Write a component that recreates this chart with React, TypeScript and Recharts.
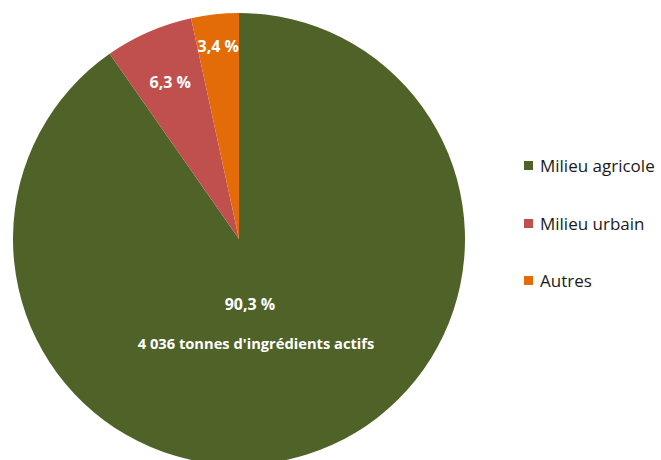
import { PieChart, Pie, Cell, Legend } from 'recharts';

const categories = ['Milieu agricole', 'Milieu urbain', 'Autres'];
const shares = [90.3, 6.3, 3.4];
const colors = ['#4F6228', '#C0504D', '#E36C09'];
const mainNote = "4 036 tonnes d'ingrédients actifs";

const RAD = Math.PI / 180;
const FONT = "'Open Sans', 'Noto Sans', sans-serif";

const data = categories.map((name, i) => ({ name, value: shares[i] }));

const fmt = (v: number) => `${v.toFixed(1).replace('.', ',')} %`;

// radius factor of each label
const labelRadius = [0, 0.76, 0.86];

const renderLabel = (props: any) => {
  const { cx, cy, midAngle, outerRadius, index, value } = props;
  if (index === 0) {
    return (
      <g fill="#fff" fontFamily={FONT} fontWeight={700} textAnchor="middle">
        <text x={cx + 11} y={cy + 71} fontSize={16}>{fmt(value)}</text>
        <text x={cx + 17} y={cy + 110} fontSize={14.7}>{mainNote}</text>
      </g>
    );
  }
  const r = outerRadius * labelRadius[index];
  const x = cx + r * Math.cos(-midAngle * RAD);
  const y = cy + r * Math.sin(-midAngle * RAD);
  return (
    <text x={x} y={y} fill="#fff" fontFamily={FONT} fontWeight={700} fontSize={16}
      textAnchor="middle" dominantBaseline="central">
      {fmt(value)}
    </text>
  );
};

const LegendList = () => (
  <div style={{ fontFamily: FONT, fontSize: 17, color: '#1a1a1a' }}>
    {categories.map((c, i) => (
      <div key={c} style={{ display: 'flex', alignItems: 'center', height: 57.5 }}>
        <span style={{ width: 9, height: 9, background: colors[i], marginRight: 7, display: 'inline-block' }} />
        <span>{c}</span>
      </div>
    ))}
  </div>
);

export default function App() {
  return (
    <div style={{ position: 'absolute', left: 0, top: 0, width: 661, height: 460, background: '#fff' }}>
      <PieChart width={661} height={460} margin={{ top: 0, right: 0, bottom: 0, left: 0 }}>
        <Pie
          data={data}
          dataKey="value"
          nameKey="name"
          cx={239}
          cy={239}
          outerRadius={226}
          startAngle={90}
          endAngle={-270}
          stroke="none"
          labelLine={false}
          label={renderLabel}
          isAnimationActive={false}
        >
          {data.map((d, i) => (
            <Cell key={d.name} fill={colors[i]} />
          ))}
        </Pie>
        <Legend
          content={<LegendList />}
          layout="vertical"
          align="right"
          verticalAlign="top"
          wrapperStyle={{ left: 524, top: 137, width: 137 }}
        />
      </PieChart>
    </div>
  );
}
